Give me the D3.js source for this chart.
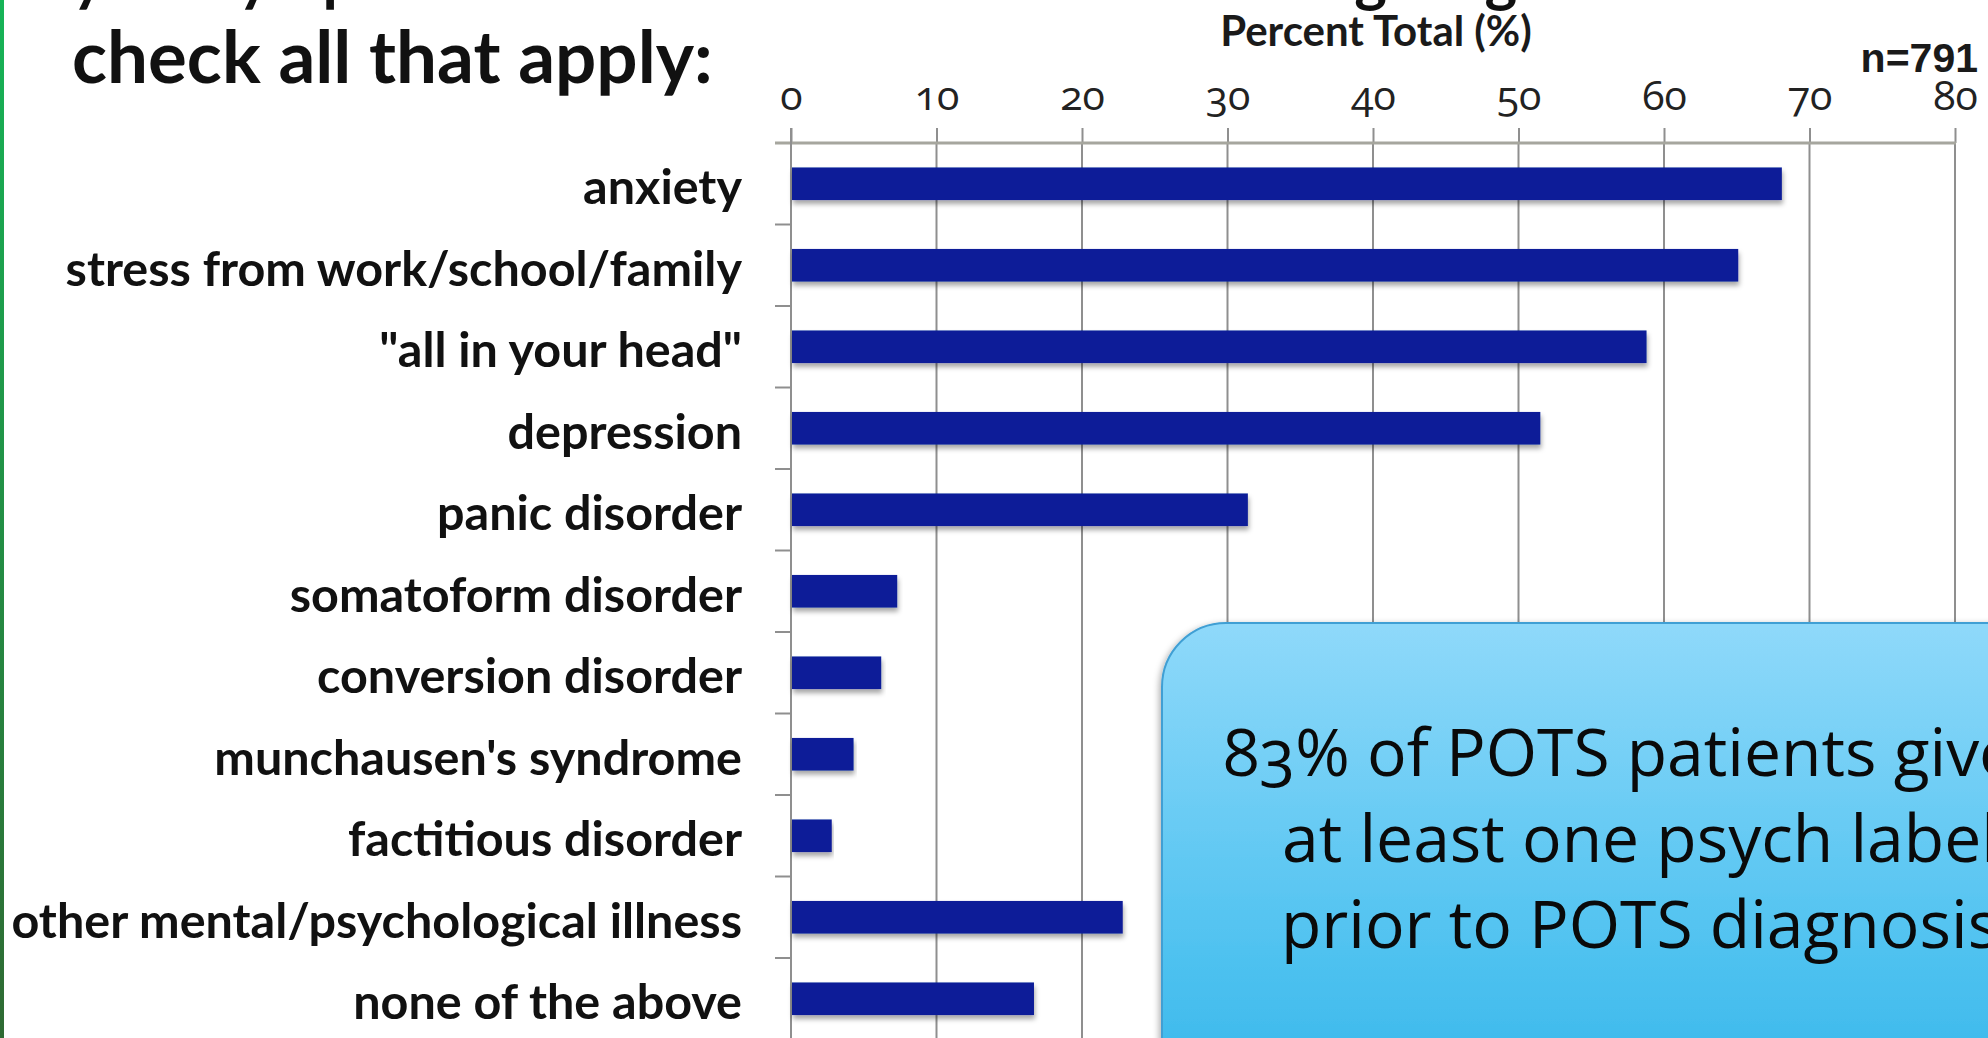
<!DOCTYPE html>
<html>
<head>
<meta charset="utf-8">
<script src="https://cdn.jsdelivr.net/npm/d3@7"></script>
<style>
  html, body { margin: 0; padding: 0; background: #ffffff; overflow: hidden; }
  svg { display: block; }
</style>
</head>
<body>
<script>
// Survey responses: psychiatric labels given before diagnosis
const categories = [
  "anxiety",
  "stress from work/school/family",
  "\"all in your head\"",
  "depression",
  "panic disorder",
  "somatoform disorder",
  "conversion disorder",
  "munchausen's syndrome",
  "factitious disorder",
  "other mental/psychological illness",
  "none of the above"
];
const percents = [68.1, 65.1, 58.8, 51.5, 31.4, 7.3, 6.2, 4.3, 2.8, 22.8, 16.7];
const xTicks = [0, 10, 20, 30, 40, 50, 60, 70, 80];
const titleLines = ["your symptoms were attributed to the following diagnoses", "check all that apply:"];
const calloutLines = ["83% of POTS patients given", "at least one psych label", "prior to POTS diagnosis"];
const sampleLabel = "n=791";
const axisTitle = "Percent Total (%)";

const W = 1988, H = 1038;
const svg = d3.select("body").append("svg").attr("width", W).attr("height", H);
const defs = svg.append("defs");

// green stripe on the slide edge
const stripe = defs.append("linearGradient").attr("id", "stripe").attr("x1", 0).attr("y1", 0).attr("x2", 0).attr("y2", 1);
stripe.append("stop").attr("offset", "0%").attr("stop-color", "#16b457");
stripe.append("stop").attr("offset", "100%").attr("stop-color", "#2f6a33");

// callout fill
const boxGrad = defs.append("linearGradient").attr("id", "boxGrad").attr("x1", 0).attr("y1", 0).attr("x2", 0).attr("y2", 1);
boxGrad.append("stop").attr("offset", "0%").attr("stop-color", "#8fd9fa");
boxGrad.append("stop").attr("offset", "55%").attr("stop-color", "#4fc2f0");
boxGrad.append("stop").attr("offset", "100%").attr("stop-color", "#22ade6");

const shadow = defs.append("filter").attr("id", "barShadow").attr("x", "-5%").attr("y", "-30%").attr("width", "110%").attr("height", "180%");
shadow.append("feDropShadow").attr("dx", 1).attr("dy", 4).attr("stdDeviation", 2.5)
  .attr("flood-color", "#000").attr("flood-opacity", 0.35);

const boxShadow = defs.append("filter").attr("id", "boxShadow").attr("x", "-10%").attr("y", "-10%").attr("width", "120%").attr("height", "120%");
boxShadow.append("feDropShadow").attr("dx", -2).attr("dy", 2).attr("stdDeviation", 3)
  .attr("flood-color", "#000").attr("flood-opacity", 0.3);

svg.append("rect").attr("x", 0).attr("y", 0).attr("width", 4).attr("height", H).attr("fill", "url(#stripe)");

// scales
const x = d3.scaleLinear().domain([0, 80]).range([791, 1955]);
const y = d3.scaleBand().domain(categories).range([143, 1039.5]).paddingInner(0.6).paddingOuter(0.3);
const step = y.step();

// title (first line runs off the top edge)
svg.append("g").selectAll("text").data(titleLines).join("text")
  .attr("x", 72).attr("y", (d, i) => i === 0 ? 0 : 83)
  .attr("font-family", "Lato, sans-serif").attr("font-weight", 700)
  .attr("font-size", (d, i) => i === 0 ? 62 : 72.7).attr("fill", "#111")
  .text(d => d);

// axis title and sample size
svg.append("text").attr("x", 1376).attr("y", 46).attr("text-anchor", "middle")
  .attr("font-family", "Lato, sans-serif").attr("font-weight", 700).attr("font-size", 42).attr("fill", "#1a1a1a")
  .text(axisTitle);
svg.append("text").attr("x", 1978).attr("y", 72).attr("text-anchor", "end")
  .attr("font-family", "'Liberation Sans', Arial, sans-serif").attr("font-weight", 700).attr("font-size", 41).attr("fill", "#1a1a1a")
  .text(sampleLabel);

const plot = svg.append("g");

// vertical gridlines
plot.append("g").selectAll("line").data(xTicks.slice(1)).join("line")
  .attr("x1", d => x(d)).attr("x2", d => x(d))
  .attr("y1", 143).attr("y2", H)
  .attr("stroke", "#8f8f8f").attr("stroke-width", 2);

// top axis
const xAxis = d3.axisTop(x).tickValues(xTicks).tickSizeInner(15).tickSizeOuter(0).tickPadding(18);
const gx = plot.append("g").attr("transform", "translate(0,143)").call(xAxis);
gx.select(".domain").remove();
gx.selectAll(".tick line").attr("stroke", "#8f8f8f").attr("stroke-width", 2);
gx.selectAll(".tick text")
  .attr("font-family", "'Open Sans', sans-serif").attr("font-size", 41).attr("fill", "#222")
  .style("font-variant-numeric", "oldstyle-nums");
plot.append("line").attr("x1", 775).attr("x2", x(80) + 1).attr("y1", 143).attr("y2", 143)
  .attr("stroke", "#a6a69e").attr("stroke-width", 3);

// left axis line and boundary ticks
plot.append("line").attr("x1", x(0)).attr("x2", x(0)).attr("y1", 128).attr("y2", H)
  .attr("stroke", "#8f8f8f").attr("stroke-width", 2);
const bounds = categories.map(c => y(c) + y.bandwidth() / 2 + step / 2);
plot.append("g").selectAll("line").data(bounds).join("line")
  .attr("x1", 775).attr("x2", x(0)).attr("y1", d => d).attr("y2", d => d)
  .attr("stroke", "#8f8f8f").attr("stroke-width", 2);

// bars
plot.append("g").selectAll("rect").data(categories).join("rect")
  .attr("x", x(0) + 1).attr("y", d => y(d))
  .attr("width", (d, i) => x(percents[i]) - x(0) - 1)
  .attr("height", y.bandwidth())
  .attr("fill", "#0b1c98").attr("filter", "url(#barShadow)");

// category labels
plot.append("g").selectAll("text").data(categories).join("text")
  .attr("x", 742).attr("y", d => y(d) + y.bandwidth() / 2).attr("dy", "0.42em")
  .attr("text-anchor", "end")
  .attr("font-family", "Lato, sans-serif").attr("font-weight", 700).attr("font-size", 48.5).attr("fill", "#111")
  .text(d => d);

// callout
const callout = svg.append("g");
callout.append("rect").attr("x", 1162).attr("y", 623).attr("width", 1000).attr("height", 600)
  .attr("rx", 64).attr("ry", 64)
  .attr("fill", "url(#boxGrad)").attr("stroke", "#3f9fd4").attr("stroke-width", 2)
  .attr("filter", "url(#boxShadow)");
callout.selectAll("text").data(calloutLines).join("text")
  .attr("x", 1640).attr("y", (d, i) => 776 + i * 86).attr("text-anchor", "middle")
  .attr("font-family", "'Open Sans', sans-serif").attr("font-size", 66).attr("fill", "#0a0a0a")
  .style("font-variant-numeric", "oldstyle-nums")
  .text(d => d);
</script>
</body>
</html>
